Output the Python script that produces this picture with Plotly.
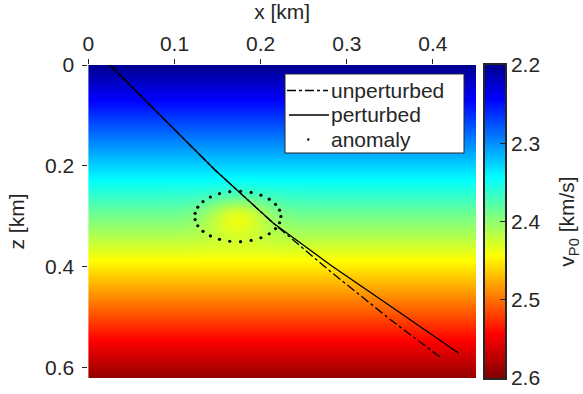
import numpy as np
import plotly.graph_objects as go

# ---- data ----
# velocity model (km/s): linear gradient with depth plus a small positive anomaly
v_top = 2.2            # v at z = 0
v_gradient = 0.63      # dv/dz  (1/s)
anom_x = 0.1735        # anomaly centre x (km)
anom_z = 0.30          # anomaly centre z (km)
anom_amp = 0.045       # anomaly amplitude (km/s)
anom_sigma = 0.026     # anomaly width (km)
anom_radius = 0.05     # radius of dotted outline (km)
n_anom_pts = 25

x_extent = [0.0, 0.45]
z_extent = [0.0, 0.62]

# ray paths (x, z) in km
unpert_x = [0.025, 0.084, 0.147, 0.2145, 0.281, 0.35, 0.411]
unpert_z = [0.000, 0.100, 0.208, 0.313, 0.409, 0.5035, 0.582]
pert_x = [0.025, 0.084, 0.147, 0.2145, 0.235, 0.256, 0.281, 0.35, 0.43]
pert_z = [0.000, 0.100, 0.208, 0.313, 0.339, 0.366, 0.396, 0.477, 0.571]

legend_labels = ["unperturbed", "perturbed", "anomaly"]

x_ticks = [0, 0.1, 0.2, 0.3, 0.4]
x_ticklabels = ["0", "0.1", "0.2", "0.3", "0.4"]
z_ticks = [0, 0.2, 0.4, 0.6]
z_ticklabels = ["0", "0.2", "0.4", "0.6"]
cb_ticks = [2.2, 2.3, 2.4, 2.5, 2.6]
cb_ticklabels = ["2.2", "2.3", "2.4", "2.5", "2.6"]
c_min, c_max = 2.2, 2.6

# ---- build field ----
xg = np.linspace(x_extent[0], x_extent[1], 226)
zg = np.linspace(z_extent[0], z_extent[1], 312)
X, Z = np.meshgrid(xg, zg)
V = v_top + v_gradient * Z + anom_amp * np.exp(-((X - anom_x) ** 2 + (Z - anom_z) ** 2) / (2 * anom_sigma ** 2))

theta = np.linspace(0, 2 * np.pi, n_anom_pts, endpoint=False)
ax_pts = anom_x + anom_radius * np.cos(theta)
az_pts = anom_z + anom_radius * np.sin(theta)

jet = [[0.0, "#00008F"], [0.11, "#0000FF"], [0.36, "#00FFFF"],
       [0.61, "#FFFF00"], [0.86, "#FF0000"], [1.0, "#800000"]]

W, H = 583, 394
def px_x(a, b):
    return [a / W, b / W]
def px_y(top, bottom):
    return [1 - bottom / H, 1 - top / H]
def fx(p):
    return p / W
def fy(p):
    return 1 - p / H

FONT = "Liberation Sans, Arial, Helvetica, sans-serif"
TXT = "#262626"
FS = 21

fig = go.Figure()
fig.add_trace(go.Heatmap(x=xg, y=zg, z=V, colorscale=jet, zmin=c_min, zmax=c_max,
                         showscale=False, hoverinfo="skip", xaxis="x", yaxis="y"))
fig.add_trace(go.Scatter(x=unpert_x, y=unpert_z, mode="lines", name=legend_labels[0],
                         line=dict(color="black", width=1.3, dash="dashdot"), showlegend=False))
fig.add_trace(go.Scatter(x=pert_x, y=pert_z, mode="lines", name=legend_labels[1],
                         line=dict(color="black", width=1.3), showlegend=False))
fig.add_trace(go.Scatter(x=ax_pts, y=az_pts, mode="markers", name=legend_labels[2],
                         marker=dict(color="black", size=3.2), showlegend=False))

# colorbar drawn as its own small axes
cb_v = np.linspace(c_min, c_max, 300)
fig.add_trace(go.Heatmap(x=[0, 1], y=cb_v, z=np.column_stack([cb_v, cb_v]),
                         colorscale=jet, zmin=c_min, zmax=c_max, showscale=False,
                         hoverinfo="skip", xaxis="x2", yaxis="y2"))

# legend box (MATLAB style)
box_l, box_r, box_t, box_b = 285, 464, 74, 153
row_y = [90.5, 115, 139.5]
shapes = [dict(type="rect", xref="paper", yref="paper", x0=fx(box_l), x1=fx(box_r),
               y0=fy(box_b), y1=fy(box_t), fillcolor="white",
               line=dict(color=TXT, width=1), layer="above")]
shapes.append(dict(type="line", xref="paper", yref="paper", x0=fx(287), x1=fx(328),
                   y0=fy(row_y[0]), y1=fy(row_y[0]),
                   line=dict(color="black", width=1.3, dash="dashdot"), layer="above"))
shapes.append(dict(type="line", xref="paper", yref="paper", x0=fx(289), x1=fx(329),
                   y0=fy(row_y[1]), y1=fy(row_y[1]),
                   line=dict(color="black", width=1.3), layer="above"))
shapes.append(dict(type="circle", xref="paper", yref="paper", x0=fx(307.3), x1=fx(309.3),
                   y0=fy(row_y[2] + 1), y1=fy(row_y[2] - 1),
                   fillcolor="black", line=dict(color="black", width=0.5), layer="above"))
annotations = [dict(text=t, xref="paper", yref="paper", x=fx(329), y=fy(yy),
                    xanchor="left", yanchor="middle", showarrow=False,
                    font=dict(size=FS, color=TXT, family=FONT))
               for t, yy in zip(legend_labels, row_y)]

fig.update_layout(
    width=W, height=H,
    margin=dict(l=0, r=0, t=0, b=0, autoexpand=False),
    paper_bgcolor="white", plot_bgcolor="white",
    font=dict(family=FONT, size=FS, color=TXT),
    showlegend=False,
    shapes=shapes, annotations=annotations,
    xaxis=dict(domain=px_x(88.4, 476), range=x_extent, side="top", automargin=False,
               tickvals=x_ticks, ticktext=x_ticklabels, ticks="outside", ticklen=5,
               tickcolor=TXT, showgrid=False, zeroline=False, showline=False,
               title=dict(text="x [km]", standoff=6, font=dict(size=FS))),
    yaxis=dict(domain=px_y(65, 378), range=[z_extent[1], z_extent[0]], automargin=False,
               tickvals=z_ticks, ticktext=z_ticklabels, ticks="outside", ticklen=5,
               ticklabelstandoff=4,
               tickcolor=TXT, showgrid=False, zeroline=False, showline=False,
               title=dict(text="z [km]", standoff=14, font=dict(size=FS))),
    xaxis2=dict(domain=px_x(485, 505), range=[0, 1], anchor="y2", showticklabels=False,
                automargin=False,
                ticks="", showgrid=False, zeroline=False, showline=True, mirror=True,
                linecolor=TXT, linewidth=1.5),
    yaxis2=dict(domain=px_y(65, 378), range=[c_max, c_min], anchor="x2", side="right",
                automargin=False,
                tickvals=cb_ticks, ticktext=cb_ticklabels, ticks="inside", ticklen=5,
                tickcolor=TXT, showgrid=False, zeroline=False, showline=True, mirror=True,
                linecolor=TXT, linewidth=1.5,
                title=dict(text="v<sub>P0</sub> [km/s]", standoff=20, font=dict(size=FS))),
)

fig.write_html("out.html")
